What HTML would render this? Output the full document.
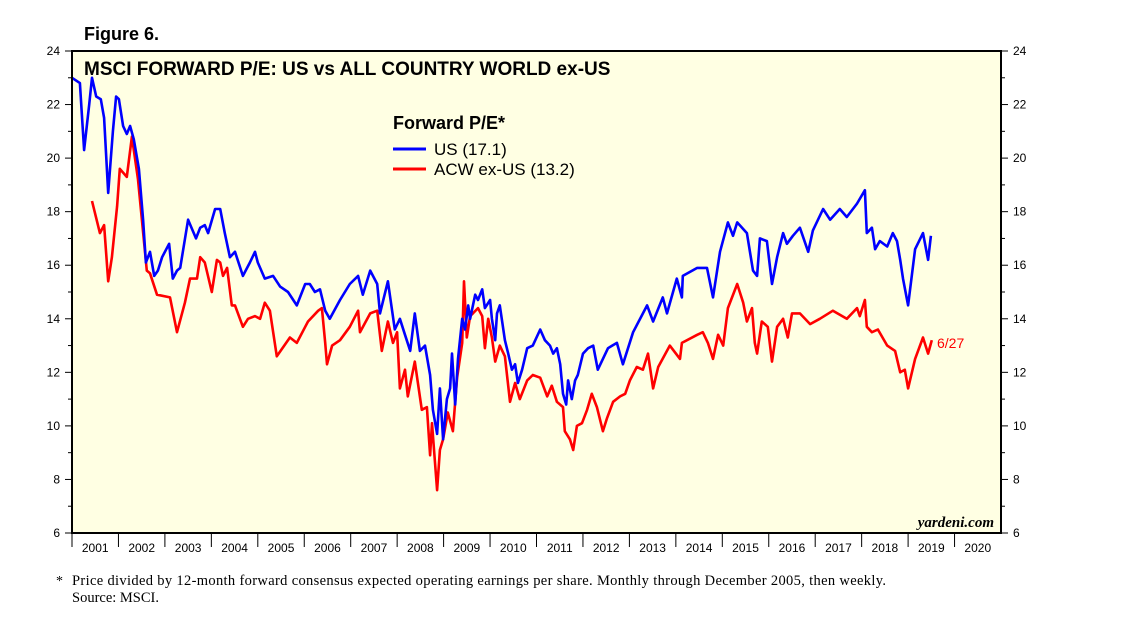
<!DOCTYPE html>
<html><head><meta charset="utf-8"><style>
body{margin:0;background:#fff;width:1138px;height:629px;overflow:hidden;font-family:"Liberation Sans",sans-serif}
svg text{font-family:"Liberation Sans",sans-serif}
</style></head><body>
<svg id="chart" width="1138" height="629" xmlns="http://www.w3.org/2000/svg">
<text x="84" y="40" font-size="18" font-weight="bold">Figure 6.</text>
<rect x="72" y="51" width="929" height="482" fill="#ffffe3"/>
<g id="axes"></g>
<g id="series"></g>
<rect x="72" y="51" width="929" height="482" fill="none" stroke="#000" stroke-width="2"/>
<text x="84" y="75" font-size="19" font-weight="bold">MSCI FORWARD P/E: US vs ALL COUNTRY WORLD ex-US</text>
<text x="393" y="129" font-size="18" font-weight="bold">Forward P/E*</text>
<g><line x1="393" y1="149" x2="426" y2="149" stroke="#0000ff" stroke-width="3"/><text x="434" y="155" font-size="17">US (17.1)</text></g>
<g><line x1="393" y1="169" x2="426" y2="169" stroke="#ff0000" stroke-width="3"/><text x="434" y="175" font-size="17">ACW ex-US (13.2)</text></g>
<text x="937" y="348" font-size="14" fill="#ff0000">6/27</text>
<text x="994" y="527" font-size="15" font-weight="bold" font-style="italic" text-anchor="end" style="font-family:'Liberation Serif',serif">yardeni.com</text>
<text x="56" y="585" font-size="14" style="font-family:'Liberation Serif',serif">*</text>
<text x="72" y="585" font-size="14.5" textLength="814" style="font-family:'Liberation Serif',serif">Price divided by 12-month forward consensus expected operating earnings per share. Monthly through December 2005, then weekly.</text>
<text x="72" y="602" font-size="14.5" style="font-family:'Liberation Serif',serif">Source: MSCI.</text>
</svg>
<script>
const yTicks=[6,8,10,12,14,16,18,20,22,24];
const years=[2001,2002,2003,2004,2005,2006,2007,2008,2009,2010,2011,2012,2013,2014,2015,2016,2017,2018,2019,2020];
const usDates=[2001.00,2001.17,2001.26,2001.37,2001.43,2001.52,2001.62,2001.69,2001.78,2001.88,2001.95,2002.01,2002.10,2002.18,2002.25,2002.33,2002.44,2002.53,2002.59,2002.68,2002.77,2002.85,2002.94,2003.09,2003.17,2003.26,2003.33,2003.50,2003.67,2003.76,2003.86,2003.93,2004.08,2004.19,2004.29,2004.40,2004.51,2004.68,2004.83,2004.94,2005.00,2005.15,2005.33,2005.48,2005.65,2005.84,2006.02,2006.12,2006.23,2006.34,2006.45,2006.55,2006.77,2006.98,2007.16,2007.26,2007.42,2007.57,2007.63,2007.80,2007.95,2008.06,2008.17,2008.28,2008.38,2008.49,2008.60,2008.71,2008.77,2008.86,2008.92,2008.99,2009.07,2009.14,2009.18,2009.25,2009.31,2009.40,2009.46,2009.53,2009.57,2009.68,2009.74,2009.83,2009.89,2010.00,2010.04,2010.11,2010.15,2010.21,2010.32,2010.39,2010.47,2010.54,2010.60,2010.69,2010.80,2010.92,2011.08,2011.18,2011.29,2011.36,2011.44,2011.51,2011.57,2011.64,2011.68,2011.76,2011.83,2011.89,2012.00,2012.11,2012.22,2012.32,2012.43,2012.54,2012.63,2012.73,2012.86,2013.08,2013.38,2013.51,2013.72,2013.81,2014.02,2014.13,2014.15,2014.46,2014.67,2014.80,2014.95,2015.12,2015.23,2015.32,2015.53,2015.66,2015.75,2015.81,2015.96,2016.07,2016.18,2016.31,2016.39,2016.52,2016.67,2016.85,2016.95,2017.17,2017.32,2017.53,2017.68,2017.90,2018.07,2018.11,2018.22,2018.29,2018.39,2018.55,2018.67,2018.76,2018.83,2018.89,2019.00,2019.15,2019.32,2019.43,2019.49];
const usValues=[23.0,22.8,20.3,22.0,23.0,22.3,22.2,21.5,18.7,21.0,22.3,22.2,21.2,20.9,21.2,20.7,19.6,17.7,16.1,16.5,15.6,15.8,16.3,16.8,15.5,15.8,15.9,17.7,17.0,17.4,17.5,17.2,18.1,18.1,17.2,16.3,16.5,15.6,16.1,16.5,16.1,15.5,15.6,15.2,15.0,14.5,15.3,15.3,15.0,15.1,14.3,14.0,14.7,15.3,15.6,14.9,15.8,15.3,14.2,15.4,13.6,14.0,13.4,12.8,14.2,12.8,13.0,11.9,10.6,9.7,11.4,9.5,11.0,11.4,12.7,10.8,12.5,14.0,13.6,14.5,14.0,14.9,14.7,15.1,14.4,14.7,14.0,13.2,14.2,14.5,13.2,12.7,12.1,12.3,11.6,12.1,12.9,13.0,13.6,13.2,13.0,12.7,12.9,12.3,11.2,10.8,11.7,11.0,11.7,11.9,12.7,12.9,13.0,12.1,12.5,12.9,13.0,13.1,12.3,13.5,14.5,13.9,14.8,14.2,15.5,14.8,15.6,15.9,15.9,14.8,16.5,17.6,17.1,17.6,17.2,15.8,15.6,17.0,16.9,15.3,16.3,17.2,16.8,17.1,17.4,16.5,17.3,18.1,17.7,18.1,17.8,18.3,18.8,17.2,17.4,16.6,16.9,16.7,17.2,16.9,16.2,15.5,14.5,16.6,17.2,16.2,17.1];
const acwDates=[2001.43,2001.60,2001.69,2001.78,2001.86,2001.97,2002.03,2002.18,2002.29,2002.42,2002.61,2002.68,2002.83,2003.11,2003.26,2003.43,2003.54,2003.69,2003.76,2003.86,2004.01,2004.12,2004.19,2004.25,2004.34,2004.44,2004.51,2004.68,2004.79,2004.94,2005.05,2005.15,2005.26,2005.41,2005.69,2005.84,2006.02,2006.08,2006.30,2006.38,2006.45,2006.49,2006.60,2006.77,2006.98,2007.16,2007.20,2007.42,2007.57,2007.67,2007.80,2007.91,2008.00,2008.06,2008.17,2008.23,2008.38,2008.53,2008.64,2008.71,2008.75,2008.86,2008.92,2008.99,2009.09,2009.20,2009.29,2009.40,2009.44,2009.50,2009.57,2009.63,2009.74,2009.83,2009.89,2009.96,2010.04,2010.11,2010.21,2010.32,2010.43,2010.54,2010.64,2010.80,2010.92,2011.08,2011.23,2011.33,2011.44,2011.57,2011.61,2011.72,2011.79,2011.87,2011.98,2012.09,2012.19,2012.30,2012.43,2012.52,2012.65,2012.80,2012.91,2013.01,2013.16,2013.29,2013.40,2013.51,2013.62,2013.87,2014.09,2014.13,2014.46,2014.58,2014.69,2014.80,2014.91,2015.02,2015.12,2015.32,2015.45,2015.53,2015.64,2015.70,2015.75,2015.85,2015.98,2016.07,2016.18,2016.31,2016.41,2016.50,2016.67,2016.89,2017.10,2017.38,2017.68,2017.90,2017.96,2018.07,2018.11,2018.22,2018.35,2018.55,2018.72,2018.83,2018.93,2019.00,2019.15,2019.32,2019.43,2019.51];
const acwValues=[18.4,17.2,17.5,15.4,16.3,18.2,19.6,19.3,20.8,19.2,15.8,15.7,14.9,14.8,13.5,14.6,15.5,15.5,16.3,16.1,15.0,16.2,16.1,15.6,15.9,14.5,14.5,13.7,14.0,14.1,14.0,14.6,14.3,12.6,13.3,13.1,13.7,13.9,14.3,14.4,13.1,12.3,13.0,13.2,13.7,14.3,13.5,14.2,14.3,12.8,13.9,13.1,13.5,11.4,12.1,11.1,12.4,10.6,10.7,8.9,10.1,7.6,9.1,9.5,10.5,9.8,11.8,13.1,15.4,13.3,14.1,14.2,14.4,14.1,12.9,14.0,13.3,12.4,13.0,12.6,10.9,11.6,11.0,11.7,11.9,11.8,11.1,11.5,10.9,10.7,9.8,9.5,9.1,10.0,10.1,10.6,11.2,10.7,9.8,10.3,10.9,11.1,11.2,11.7,12.2,12.1,12.7,11.4,12.2,13.0,12.5,13.1,13.4,13.5,13.1,12.5,13.4,13.0,14.4,15.3,14.6,13.9,14.4,13.1,12.7,13.9,13.7,12.4,13.7,14.0,13.3,14.2,14.2,13.8,14.0,14.3,14.0,14.4,14.1,14.7,13.7,13.5,13.6,13.0,12.8,12.0,12.1,11.4,12.5,13.3,12.7,13.2];

const X0=72,X1=1001,Y0=533,Y1=51;
function xs(t){return X0+(t-2001)/(2021-2001)*(X1-X0);}
function ys(v){return Y0-(v-6)/(24-6)*(Y0-Y1);}
const NS="http://www.w3.org/2000/svg";
function mk(tag,attrs,parent){const e=document.createElementNS(NS,tag);for(const k in attrs)e.setAttribute(k,attrs[k]);parent.appendChild(e);return e;}
const axes=document.getElementById('axes'),ser=document.getElementById('series');
for(let v=6;v<=24;v++){
  const y=ys(v),len=(v%2===0)?7:4;
  const l1=mk('line',{x1:X0-len,x2:X0,y1:y,y2:y,stroke:'#000','stroke-width':1},axes);
  
  
  const l2=mk('line',{x1:X1,x2:X1+len,y1:y,y2:y,stroke:'#000','stroke-width':1},axes);
  
  
}
yTicks.forEach(v=>{
  const y=ys(v);
  const a=mk('text',{x:X0-12,y:y+4,'font-size':12,'text-anchor':'end'},axes);a.textContent=v;
  
  
  const b=mk('text',{x:X1+12,y:y+4,'font-size':12},axes);b.textContent=v;
  
  
});
years.forEach(yr=>{
  const xa=xs(yr),xb=xs(yr+1);
  const s=mk('line',{x1:xa,x2:xa,y1:Y0,y2:Y0+14,stroke:'#000','stroke-width':1},axes);
  
  
  const t=mk('text',{x:(xa+xb)/2,y:Y0+19,'font-size':12,'text-anchor':'middle'},axes);t.textContent=yr;
  
  
});
function draw(d,v,color,name){
  let p='';d.forEach((t,i)=>{p+=(i?'L':'M')+xs(t).toFixed(1)+','+ys(v[i]).toFixed(1);});
  const e=mk('path',{d:p,fill:'none',stroke:color,'stroke-width':2.6,'stroke-linejoin':'round'},ser);
  
  
}
draw(acwDates,acwValues,'#ff0000','acw-ex-us-line');
draw(usDates,usValues,'#0000ff','us-line');
</script>
</body></html>
